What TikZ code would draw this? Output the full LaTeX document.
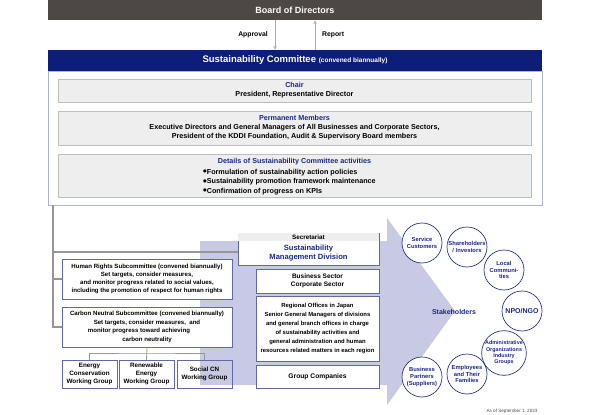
\documentclass[tikz,border=0pt]{standalone}
\usepackage{fontspec}
\setmainfont{Liberation Sans}
\newfontfamily\dejavu{DejaVu Sans}
\usetikzlibrary{arrows.meta,shadows}
\definecolor{boardgray}{RGB}{77,72,70}
\definecolor{navy}{RGB}{12,30,120}
\definecolor{navytext}{RGB}{25,40,140}
\definecolor{purp}{RGB}{200,201,227}
\definecolor{lboxline}{RGB}{95,105,165}
\definecolor{linegray}{RGB}{150,150,150}
\definecolor{grayfill}{RGB}{238,238,238}
\definecolor{grayline}{RGB}{190,190,190}
\definecolor{circline}{RGB}{40,55,140}
\newcommand\myfs[2]{\fontsize{#1}{#2}\selectfont}
\newcommand\mybul{\raisebox{1.6pt}{\dejavu\fontsize{4.2}{4.2}\selectfont ●}}
\tikzset{
  boardbox/.style={fill=boardgray, text=white, font=\myfs{9}{10}\bfseries, inner sep=0pt, minimum width=494pt, minimum height=20pt},
  headbox/.style={fill=navy, text=white, inner sep=0pt, minimum width=494pt, minimum height=21pt},
  graybox/.style={fill=grayfill, draw=grayline, line width=0.6pt, inner sep=0pt, minimum width=473pt, align=center, font=\myfs{7.2}{9}\bfseries},
  plainbox/.style={draw=lboxline, line width=0.7pt, inner sep=0pt, align=center},
  lbox/.style={plainbox, fill=white,
     drop shadow={shadow xshift=0.8pt, shadow yshift=-0.8pt, fill=black!30, opacity=1}},
  circ/.style={circle, fill=white, draw=circline, line width=0.7pt, minimum size=40pt, inner sep=0pt, align=center, text=navytext, font=\myfs{5.8}{6.6}\bfseries},
  conn/.style={draw=linegray, line width=1.1pt},
  arr/.style={draw=linegray!80, line width=1pt, -{Stealth[length=4pt,width=3.5pt]}},
  lbl/.style={font=\myfs{6.8}{8}\bfseries, inner sep=0pt},
}
\begin{document}
\begin{tikzpicture}[x=1pt,y=-1pt]
\useasboundingbox (0,0) rectangle (590,415);
% big lavender arrow
\fill[purp] (200,241) -- (387,241) -- (387,218) -- (455,311) -- (387,405) -- (387,385) -- (200,385) -- cycle;

% board and header
\node[boardbox] (board) at (295,10) {Board of Directors};
\node[headbox] (head) at (295,60.5) {{\myfs{9.5}{11}\bfseries Sustainability Committee} {\myfs{6.5}{8}\bfseries (convened biannually)}};
\draw[arr] ([xshift=-20pt]board.south) -- ([xshift=-20pt]head.north);
\draw[arr] ([xshift=20pt]head.north) -- ([xshift=20pt]board.south);
\node[lbl, anchor=east] (lapp) at (268,35) {Approval};
\node[lbl, anchor=west] (lrep) at (322,35) {Report};

% committee body
\path[fill=white, draw=lboxline!50, line width=0.7pt, drop shadow={shadow xshift=1pt, shadow yshift=-1pt, fill=black!30, opacity=1}] (48,71) rectangle (542,205);
\coordinate (combot) at (53,205);
\node[graybox, minimum height=23pt] (chair) at (294.5,90.5) {\textcolor{navytext}{Chair}\\President, Representative Director};
\node[graybox, minimum height=34pt] (perm) at (294.5,128) {\textcolor{navytext}{Permanent Members}\\Executive Directors and General Managers of All Businesses and Corporate Sectors,\\President of the KDDI Foundation, Audit \& Supervisory Board members};
\node[graybox, minimum height=43pt] (det) at (294.5,175.5) {};
\node[font=\myfs{7.2}{9}\bfseries, text=navytext, inner sep=0pt] (dett) at (294.5,162) {Details of Sustainability Committee activities};
\node[font=\myfs{7.2}{9.5}\bfseries, align=left, inner sep=0pt, anchor=west] (detl) at (203,182) {\mybul Formulation of sustainability action policies\\\mybul Sustainability promotion framework maintenance\\\mybul Confirmation of progress on KPIs};

% subcommittees
\node[lbox, minimum width=170pt, minimum height=40pt, font=\myfs{6.1}{8}\bfseries] (hr) at (147,279) {Human Rights Subcommittee (convened biannually)\\Set targets, consider measures,\\and monitor progress related to social values,\\including the promotion of respect for human rights};
\node[lbox, minimum width=170pt, minimum height=40pt, font=\myfs{6.1}{8.5}\bfseries] (cn) at (147,327) {Carbon Neutral Subcommittee (convened biannually)\\Set targets, consider measures,\ \ and\\\hspace*{-16pt}monitor progress toward achieving\\carbon neutrality};
\node[lbox, minimum width=55pt, minimum height=28pt, font=\myfs{6.3}{7.8}\bfseries] (wga) at (89.5,374) {Energy\\Conservation\\Working Group};
\node[lbox, minimum width=55pt, minimum height=28pt, font=\myfs{6.3}{7.8}\bfseries] (wgb) at (146.5,374) {Renewable\\Energy\\Working Group};
\node[plainbox, minimum width=55pt, minimum height=28pt, font=\myfs{6.3}{7.8}\bfseries] (wgc) at (204.5,374) {Social CN\\Working Group};

% middle column
\node[lbox, minimum width=141pt, minimum height=32pt] (sec) at (308.5,249) {};
\fill[grayfill] ([xshift=0.4pt,yshift=-0.4pt]sec.north west) rectangle ([xshift=-0.4pt]sec.north east |- 0,241);
\node[font=\myfs{6.3}{7}\bfseries, inner sep=0pt] (sect) at (308.5,237.5) {Secretariat};
\node[font=\myfs{7.6}{9}\bfseries, text=navytext, align=center, inner sep=0pt] (secm) at (308.5,253.5) {Sustainability\\Management Division};
\node[lbox, minimum width=123pt, minimum height=24pt, font=\myfs{6.5}{8.5}\bfseries] (bus) at (317.5,281) {Business Sector\\Corporate Sector};
\node[lbox, minimum width=123pt, minimum height=65pt, font=\myfs{5.9}{9}\bfseries] (reg) at (317.5,328.5) {Regional Offices in Japan\\Senior General Managers of divisions\\and general branch offices in charge\\of sustainability activities and\\general administration and human\\resources related matters in each region};
\node[lbox, minimum width=123pt, minimum height=23pt, font=\myfs{6.7}{8}\bfseries] (grp) at (317.5,376.5) {Group Companies};

% connectors
\draw[conn] (combot) |- (cn.west);
\draw[conn] (combot |- hr.west) -- (hr.west);
\draw[conn] (combot |- 0,252) -- ([yshift=-3pt]sec.west);
\coordinate (wgj) at (146.5,353);
\draw[conn, line width=0.8pt] (cn.south) -- (wgb.north);
\draw[conn, line width=0.8pt] (wga.north) |- (wgj) -| (wgc.north);

% stakeholders
\node[font=\myfs{7}{8}\bfseries, text=navytext, inner sep=0pt] (stk) at (454,312) {Stakeholders};
\node[circ] (c1) at (422,243) {Service\\Customers};
\node[circ] (c2) at (467,247) {Shareholders\\/ Investors};
\node[circ] (c3) at (504,270) {Local\\Communi-\\ties};
\node[circ, font=\myfs{7}{8}\bfseries] (c4) at (522,311) {NPO/NGO};
\node[circ, font=\myfs{5.4}{6.4}\bfseries] (c5) at (504,353) {Administrative\\Organizations\\Industry\\Groups};
\node[circ] (c6) at (467,374) {Employees\\and Their\\Families};
\node[circ] (c7) at (422,377) {Business\\Partners\\(Suppliers)};
\node[font=\myfs{4.6}{5}, text=black!70, inner sep=0pt] (asof) at (512,411) {As of September 1, 2023};
\end{tikzpicture}
\end{document}
